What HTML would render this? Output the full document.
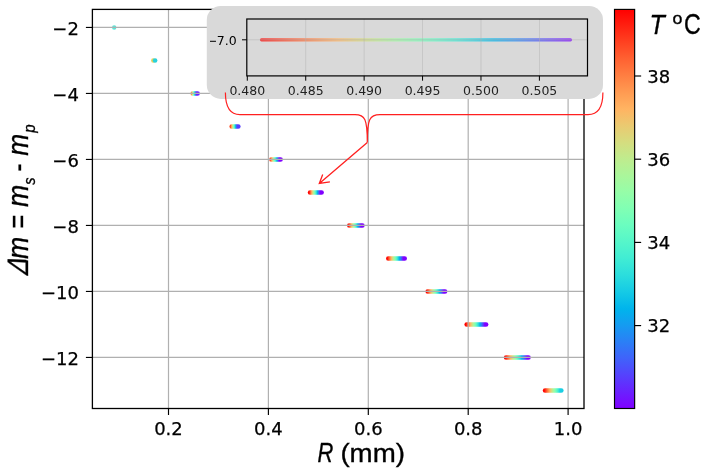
<!DOCTYPE html><html><head><meta charset="utf-8"><title>plot</title><style>html,body{margin:0;padding:0;background:#fff}svg{display:block}text{font-family:"DejaVu Sans","Liberation Sans",sans-serif}text.b{stroke:#000;stroke-width:0.25px}text.l{font-family:"Liberation Sans","DejaVu Sans",sans-serif;stroke:#000;stroke-width:0.35px}</style></head><body>
<svg width="706" height="473" viewBox="0 0 706 473">
<defs>
<linearGradient id="cb" x1="0" y1="0" x2="0" y2="1"><stop offset="0.0000" stop-color="#ff0000"/><stop offset="0.0417" stop-color="#ff2111"/><stop offset="0.0833" stop-color="#ff4221"/><stop offset="0.1250" stop-color="#ff6232"/><stop offset="0.1667" stop-color="#ff7f42"/><stop offset="0.2083" stop-color="#ff9b52"/><stop offset="0.2500" stop-color="#ffb462"/><stop offset="0.2917" stop-color="#eaca71"/><stop offset="0.3333" stop-color="#d5dd7f"/><stop offset="0.3750" stop-color="#bfec8e"/><stop offset="0.4167" stop-color="#aaf69b"/><stop offset="0.4583" stop-color="#95fda8"/><stop offset="0.5000" stop-color="#80ffb4"/><stop offset="0.5417" stop-color="#6afdc0"/><stop offset="0.5833" stop-color="#55f6ca"/><stop offset="0.6250" stop-color="#40ecd4"/><stop offset="0.6667" stop-color="#2bdddd"/><stop offset="0.7083" stop-color="#15cae5"/><stop offset="0.7500" stop-color="#00b4ec"/><stop offset="0.7917" stop-color="#159bf1"/><stop offset="0.8333" stop-color="#2b7ff6"/><stop offset="0.8750" stop-color="#4062fa"/><stop offset="0.9167" stop-color="#5542fd"/><stop offset="0.9583" stop-color="#6a21fe"/><stop offset="1.0000" stop-color="#8000ff"/></linearGradient>
<linearGradient id="gi" gradientUnits="userSpaceOnUse" x1="260" y1="0" x2="572" y2="0"><stop offset="0.0000" stop-color="#ff0000"/><stop offset="0.0625" stop-color="#ff3219"/><stop offset="0.1250" stop-color="#ff6232"/><stop offset="0.1875" stop-color="#ff8e4a"/><stop offset="0.2500" stop-color="#ffb462"/><stop offset="0.3125" stop-color="#dfd478"/><stop offset="0.3750" stop-color="#bfec8e"/><stop offset="0.4375" stop-color="#9ffaa2"/><stop offset="0.5000" stop-color="#80ffb4"/><stop offset="0.5625" stop-color="#60fac5"/><stop offset="0.6250" stop-color="#40ecd4"/><stop offset="0.6875" stop-color="#20d4e1"/><stop offset="0.7500" stop-color="#00b4ec"/><stop offset="0.8125" stop-color="#208ef4"/><stop offset="0.8750" stop-color="#4062fa"/><stop offset="0.9375" stop-color="#6032fe"/><stop offset="1.0000" stop-color="#8000ff"/></linearGradient>
</defs>
<rect width="706" height="473" fill="#fff"/>
<circle cx="114.2" cy="27.45" r="2.2" fill="#40e0d0" opacity="0.85"/>
<circle cx="153.3" cy="60.45" r="2.2" fill="#e0c840" opacity="0.85"/>
<circle cx="155.1" cy="60.45" r="2.3" fill="#28d2dc"/>
<defs><linearGradient id="c0" gradientUnits="userSpaceOnUse" x1="191.6" y1="0" x2="196.2" y2="0"><stop offset="0.0000" stop-color="#ff964f"/><stop offset="0.0833" stop-color="#f8bc66"/><stop offset="0.1667" stop-color="#d8da7d"/><stop offset="0.2500" stop-color="#b8f093"/><stop offset="0.3333" stop-color="#97fca7"/><stop offset="0.4167" stop-color="#77ffb9"/><stop offset="0.5000" stop-color="#57f7c9"/><stop offset="0.5833" stop-color="#36e6d8"/><stop offset="0.6667" stop-color="#16cbe4"/><stop offset="0.7500" stop-color="#0aa9ef"/><stop offset="0.8333" stop-color="#2b7ff6"/><stop offset="0.9167" stop-color="#4b51fc"/><stop offset="1.0000" stop-color="#6b20fe"/></linearGradient></defs>
<rect x="190.40" y="91.15" width="9.50" height="4.6" rx="2.3" fill="url(#c0)"/>
<defs><linearGradient id="c1" gradientUnits="userSpaceOnUse" x1="230.6" y1="0" x2="236.9" y2="0"><stop offset="0.0000" stop-color="#ff4f28"/><stop offset="0.0833" stop-color="#ff8143"/><stop offset="0.1667" stop-color="#ffad5d"/><stop offset="0.2500" stop-color="#e3d176"/><stop offset="0.3333" stop-color="#c0eb8d"/><stop offset="0.4167" stop-color="#9dfba3"/><stop offset="0.5000" stop-color="#7affb7"/><stop offset="0.5833" stop-color="#58f7c9"/><stop offset="0.6667" stop-color="#35e4d9"/><stop offset="0.7500" stop-color="#12c7e6"/><stop offset="0.8333" stop-color="#11a0f0"/><stop offset="0.9167" stop-color="#3473f8"/><stop offset="1.0000" stop-color="#573ffd"/></linearGradient></defs>
<rect x="229.40" y="124.15" width="11.20" height="4.6" rx="2.3" fill="url(#c1)"/>
<defs><linearGradient id="c2" gradientUnits="userSpaceOnUse" x1="270.3" y1="0" x2="279.2" y2="0"><stop offset="0.0000" stop-color="#ff3f20"/><stop offset="0.0833" stop-color="#ff793e"/><stop offset="0.1667" stop-color="#ffab5b"/><stop offset="0.2500" stop-color="#e0d377"/><stop offset="0.3333" stop-color="#b9ef92"/><stop offset="0.4167" stop-color="#92fdaa"/><stop offset="0.5000" stop-color="#6bfdbf"/><stop offset="0.5833" stop-color="#44eed2"/><stop offset="0.6667" stop-color="#1dd1e2"/><stop offset="0.7500" stop-color="#0aa9ef"/><stop offset="0.8333" stop-color="#3176f8"/><stop offset="0.9167" stop-color="#583dfd"/><stop offset="1.0000" stop-color="#8000ff"/></linearGradient></defs>
<rect x="269.10" y="157.15" width="13.80" height="4.6" rx="2.3" fill="url(#c2)"/>
<defs><linearGradient id="c3" gradientUnits="userSpaceOnUse" x1="309.0" y1="0" x2="320.2" y2="0"><stop offset="0.0000" stop-color="#ff0000"/><stop offset="0.0833" stop-color="#ff4221"/><stop offset="0.1667" stop-color="#ff7f42"/><stop offset="0.2500" stop-color="#ffb462"/><stop offset="0.3333" stop-color="#d5dd7f"/><stop offset="0.4167" stop-color="#aaf69b"/><stop offset="0.5000" stop-color="#80ffb4"/><stop offset="0.5833" stop-color="#55f6ca"/><stop offset="0.6667" stop-color="#2bdddd"/><stop offset="0.7500" stop-color="#00b4ec"/><stop offset="0.8333" stop-color="#2b7ff6"/><stop offset="0.9167" stop-color="#5542fd"/><stop offset="1.0000" stop-color="#8000ff"/></linearGradient></defs>
<rect x="307.80" y="190.15" width="16.10" height="4.6" rx="2.3" fill="url(#c3)"/>
<defs><linearGradient id="c4" gradientUnits="userSpaceOnUse" x1="348.2" y1="0" x2="361.0" y2="0"><stop offset="0.0000" stop-color="#ff0000"/><stop offset="0.0833" stop-color="#ff4221"/><stop offset="0.1667" stop-color="#ff7f42"/><stop offset="0.2500" stop-color="#ffb462"/><stop offset="0.3333" stop-color="#d5dd7f"/><stop offset="0.4167" stop-color="#aaf69b"/><stop offset="0.5000" stop-color="#80ffb4"/><stop offset="0.5833" stop-color="#55f6ca"/><stop offset="0.6667" stop-color="#2bdddd"/><stop offset="0.7500" stop-color="#00b4ec"/><stop offset="0.8333" stop-color="#2b7ff6"/><stop offset="0.9167" stop-color="#5542fd"/><stop offset="1.0000" stop-color="#8000ff"/></linearGradient></defs>
<rect x="347.00" y="223.15" width="17.70" height="4.6" rx="2.3" fill="url(#c4)"/>
<defs><linearGradient id="c5" gradientUnits="userSpaceOnUse" x1="387.2" y1="0" x2="403.3" y2="0"><stop offset="0.0000" stop-color="#ff0000"/><stop offset="0.0833" stop-color="#ff4221"/><stop offset="0.1667" stop-color="#ff7f42"/><stop offset="0.2500" stop-color="#ffb462"/><stop offset="0.3333" stop-color="#d5dd7f"/><stop offset="0.4167" stop-color="#aaf69b"/><stop offset="0.5000" stop-color="#80ffb4"/><stop offset="0.5833" stop-color="#55f6ca"/><stop offset="0.6667" stop-color="#2bdddd"/><stop offset="0.7500" stop-color="#00b4ec"/><stop offset="0.8333" stop-color="#2b7ff6"/><stop offset="0.9167" stop-color="#5542fd"/><stop offset="1.0000" stop-color="#8000ff"/></linearGradient></defs>
<rect x="386.00" y="256.15" width="21.00" height="4.6" rx="2.3" fill="url(#c5)"/>
<defs><linearGradient id="c6" gradientUnits="userSpaceOnUse" x1="426.6" y1="0" x2="443.7" y2="0"><stop offset="0.0000" stop-color="#ff0000"/><stop offset="0.0833" stop-color="#ff4221"/><stop offset="0.1667" stop-color="#ff7f42"/><stop offset="0.2500" stop-color="#ffb462"/><stop offset="0.3333" stop-color="#d5dd7f"/><stop offset="0.4167" stop-color="#aaf69b"/><stop offset="0.5000" stop-color="#80ffb4"/><stop offset="0.5833" stop-color="#55f6ca"/><stop offset="0.6667" stop-color="#2bdddd"/><stop offset="0.7500" stop-color="#00b4ec"/><stop offset="0.8333" stop-color="#2b7ff6"/><stop offset="0.9167" stop-color="#5542fd"/><stop offset="1.0000" stop-color="#8000ff"/></linearGradient></defs>
<rect x="425.40" y="289.15" width="22.00" height="4.6" rx="2.3" fill="url(#c6)"/>
<defs><linearGradient id="c7" gradientUnits="userSpaceOnUse" x1="465.6" y1="0" x2="484.7" y2="0"><stop offset="0.0000" stop-color="#ff0000"/><stop offset="0.0833" stop-color="#ff4221"/><stop offset="0.1667" stop-color="#ff7f42"/><stop offset="0.2500" stop-color="#ffb462"/><stop offset="0.3333" stop-color="#d5dd7f"/><stop offset="0.4167" stop-color="#aaf69b"/><stop offset="0.5000" stop-color="#80ffb4"/><stop offset="0.5833" stop-color="#55f6ca"/><stop offset="0.6667" stop-color="#2bdddd"/><stop offset="0.7500" stop-color="#00b4ec"/><stop offset="0.8333" stop-color="#2b7ff6"/><stop offset="0.9167" stop-color="#5542fd"/><stop offset="1.0000" stop-color="#8000ff"/></linearGradient></defs>
<rect x="464.40" y="322.15" width="24.00" height="4.6" rx="2.3" fill="url(#c7)"/>
<defs><linearGradient id="c8" gradientUnits="userSpaceOnUse" x1="505.0" y1="0" x2="527.1" y2="0"><stop offset="0.0000" stop-color="#ff0000"/><stop offset="0.0833" stop-color="#ff4221"/><stop offset="0.1667" stop-color="#ff7f42"/><stop offset="0.2500" stop-color="#ffb462"/><stop offset="0.3333" stop-color="#d5dd7f"/><stop offset="0.4167" stop-color="#aaf69b"/><stop offset="0.5000" stop-color="#80ffb4"/><stop offset="0.5833" stop-color="#55f6ca"/><stop offset="0.6667" stop-color="#2bdddd"/><stop offset="0.7500" stop-color="#00b4ec"/><stop offset="0.8333" stop-color="#2b7ff6"/><stop offset="0.9167" stop-color="#5542fd"/><stop offset="1.0000" stop-color="#8000ff"/></linearGradient></defs>
<rect x="503.80" y="355.15" width="27.00" height="4.6" rx="2.3" fill="url(#c8)"/>
<defs><linearGradient id="c9" gradientUnits="userSpaceOnUse" x1="544.0" y1="0" x2="559.9" y2="0"><stop offset="0.0000" stop-color="#ff0000"/><stop offset="0.0833" stop-color="#ff2e17"/><stop offset="0.1667" stop-color="#ff5b2e"/><stop offset="0.2500" stop-color="#ff8545"/><stop offset="0.3333" stop-color="#ffab5b"/><stop offset="0.4167" stop-color="#eaca71"/><stop offset="0.5000" stop-color="#cce385"/><stop offset="0.5833" stop-color="#aef499"/><stop offset="0.6667" stop-color="#91feab"/><stop offset="0.7500" stop-color="#73febb"/><stop offset="0.8333" stop-color="#55f6ca"/><stop offset="0.9167" stop-color="#37e6d8"/><stop offset="1.0000" stop-color="#1acee3"/></linearGradient></defs>
<rect x="542.80" y="388.15" width="20.80" height="4.6" rx="2.3" fill="url(#c9)"/>
<line x1="168.50" y1="9.4" x2="168.50" y2="408.5" stroke="#b0b0b0" stroke-width="1.2"/>
<line x1="268.40" y1="9.4" x2="268.40" y2="408.5" stroke="#b0b0b0" stroke-width="1.2"/>
<line x1="368.30" y1="9.4" x2="368.30" y2="408.5" stroke="#b0b0b0" stroke-width="1.2"/>
<line x1="468.20" y1="9.4" x2="468.20" y2="408.5" stroke="#b0b0b0" stroke-width="1.2"/>
<line x1="568.10" y1="9.4" x2="568.10" y2="408.5" stroke="#b0b0b0" stroke-width="1.2"/>
<line x1="92.4" y1="27.45" x2="584.0" y2="27.45" stroke="#b0b0b0" stroke-width="1.2"/>
<line x1="92.4" y1="93.45" x2="584.0" y2="93.45" stroke="#b0b0b0" stroke-width="1.2"/>
<line x1="92.4" y1="159.45" x2="584.0" y2="159.45" stroke="#b0b0b0" stroke-width="1.2"/>
<line x1="92.4" y1="225.45" x2="584.0" y2="225.45" stroke="#b0b0b0" stroke-width="1.2"/>
<line x1="92.4" y1="291.45" x2="584.0" y2="291.45" stroke="#b0b0b0" stroke-width="1.2"/>
<line x1="92.4" y1="357.45" x2="584.0" y2="357.45" stroke="#b0b0b0" stroke-width="1.2"/>
<line x1="168.50" y1="408.5" x2="168.50" y2="415.0" stroke="#000" stroke-width="1.15"/>
<text x="168.50" y="435.4" font-size="18" class="b" text-anchor="middle">0.2</text>
<line x1="268.40" y1="408.5" x2="268.40" y2="415.0" stroke="#000" stroke-width="1.15"/>
<text x="268.40" y="435.4" font-size="18" class="b" text-anchor="middle">0.4</text>
<line x1="368.30" y1="408.5" x2="368.30" y2="415.0" stroke="#000" stroke-width="1.15"/>
<text x="368.30" y="435.4" font-size="18" class="b" text-anchor="middle">0.6</text>
<line x1="468.20" y1="408.5" x2="468.20" y2="415.0" stroke="#000" stroke-width="1.15"/>
<text x="468.20" y="435.4" font-size="18" class="b" text-anchor="middle">0.8</text>
<line x1="568.10" y1="408.5" x2="568.10" y2="415.0" stroke="#000" stroke-width="1.15"/>
<text x="568.10" y="435.4" font-size="18" class="b" text-anchor="middle">1.0</text>
<line x1="85.9" y1="27.45" x2="92.4" y2="27.45" stroke="#000" stroke-width="1.15"/>
<text x="78.9" y="34.65" font-size="18" class="b" text-anchor="end">−2</text>
<line x1="85.9" y1="93.45" x2="92.4" y2="93.45" stroke="#000" stroke-width="1.15"/>
<text x="78.9" y="100.65" font-size="18" class="b" text-anchor="end">−4</text>
<line x1="85.9" y1="159.45" x2="92.4" y2="159.45" stroke="#000" stroke-width="1.15"/>
<text x="78.9" y="166.65" font-size="18" class="b" text-anchor="end">−6</text>
<line x1="85.9" y1="225.45" x2="92.4" y2="225.45" stroke="#000" stroke-width="1.15"/>
<text x="78.9" y="232.65" font-size="18" class="b" text-anchor="end">−8</text>
<line x1="85.9" y1="291.45" x2="92.4" y2="291.45" stroke="#000" stroke-width="1.15"/>
<text x="78.9" y="298.65" font-size="18" class="b" text-anchor="end">−10</text>
<line x1="85.9" y1="357.45" x2="92.4" y2="357.45" stroke="#000" stroke-width="1.15"/>
<text x="78.9" y="364.65" font-size="18" class="b" text-anchor="end">−12</text>
<rect x="92.4" y="9.4" width="491.6" height="399.1" fill="none" stroke="#000" stroke-width="1.3"/>
<rect x="206.8" y="6" width="396.2" height="92.9" rx="14" ry="14" fill="#d9d9d9"/>
<line x1="261.5" y1="39.8" x2="570.5" y2="39.8" stroke="url(#gi)" stroke-width="3.2" stroke-linecap="round" opacity="0.72"/>
<line x1="247.30" y1="75.9" x2="247.30" y2="80.7" stroke="#000" stroke-width="1"/>
<text x="247.30" y="94.9" font-size="12.5" fill="#222" text-anchor="middle">0.480</text>
<line x1="305.72" y1="19.0" x2="305.72" y2="75.9" stroke="#b0b0b0" stroke-width="0.6" opacity="0.8"/>
<line x1="305.72" y1="75.9" x2="305.72" y2="80.7" stroke="#000" stroke-width="1"/>
<text x="305.72" y="94.9" font-size="12.5" fill="#222" text-anchor="middle">0.485</text>
<line x1="364.14" y1="19.0" x2="364.14" y2="75.9" stroke="#b0b0b0" stroke-width="0.6" opacity="0.8"/>
<line x1="364.14" y1="75.9" x2="364.14" y2="80.7" stroke="#000" stroke-width="1"/>
<text x="364.14" y="94.9" font-size="12.5" fill="#222" text-anchor="middle">0.490</text>
<line x1="422.56" y1="19.0" x2="422.56" y2="75.9" stroke="#b0b0b0" stroke-width="0.6" opacity="0.8"/>
<line x1="422.56" y1="75.9" x2="422.56" y2="80.7" stroke="#000" stroke-width="1"/>
<text x="422.56" y="94.9" font-size="12.5" fill="#222" text-anchor="middle">0.495</text>
<line x1="480.98" y1="19.0" x2="480.98" y2="75.9" stroke="#b0b0b0" stroke-width="0.6" opacity="0.8"/>
<line x1="480.98" y1="75.9" x2="480.98" y2="80.7" stroke="#000" stroke-width="1"/>
<text x="480.98" y="94.9" font-size="12.5" fill="#222" text-anchor="middle">0.500</text>
<line x1="539.40" y1="19.0" x2="539.40" y2="75.9" stroke="#b0b0b0" stroke-width="0.6" opacity="0.8"/>
<line x1="539.40" y1="75.9" x2="539.40" y2="80.7" stroke="#000" stroke-width="1"/>
<text x="539.40" y="94.9" font-size="12.5" fill="#222" text-anchor="middle">0.505</text>
<line x1="246.8" y1="39.8" x2="587.5" y2="39.8" stroke="#b0b0b0" stroke-width="0.6" opacity="0.8"/>
<line x1="242.0" y1="39.8" x2="246.8" y2="39.8" stroke="#000" stroke-width="1"/>
<text x="236.6" y="44.599999999999994" font-size="12.5" text-anchor="end">7.0</text>
<text transform="translate(208.98,44.60) scale(0.7668,1)" class="d" font-size="12.5">−</text>
<rect x="246.8" y="19.0" width="340.7" height="56.900000000000006" fill="none" stroke="#000" stroke-width="1.2"/>
<path d="M225.4,92.6 C225.4,110 232,114.7 240,114.7 L355,114.7 C365,114.7 367.3,119 367.3,142.4 C367.3,119 369.6,114.7 380,114.7 L588,114.7 C596,114.7 602.9,110 602.9,92.6" fill="none" stroke="#ff2020" stroke-width="1.2"/>
<path d="M367.3,142.4 L319.3,183.5 M329.9,181.9 L319.3,183.5 L322.7,174.6" fill="none" stroke="#ff2020" stroke-width="1.3" stroke-linejoin="miter"/>
<rect x="614.5" y="9.4" width="20.149999999999977" height="399.1" fill="url(#cb)" stroke="#000" stroke-width="1.15"/>
<line x1="634.65" y1="76.0" x2="641.15" y2="76.0" stroke="#000" stroke-width="1.15"/>
<text x="647.3" y="82.6" font-size="18" class="b">38</text>
<line x1="634.65" y1="159.2" x2="641.15" y2="159.2" stroke="#000" stroke-width="1.15"/>
<text x="647.3" y="165.79999999999998" font-size="18" class="b">36</text>
<line x1="634.65" y1="242.4" x2="641.15" y2="242.4" stroke="#000" stroke-width="1.15"/>
<text x="647.3" y="249.0" font-size="18" class="b">34</text>
<line x1="634.65" y1="325.6" x2="641.15" y2="325.6" stroke="#000" stroke-width="1.15"/>
<text x="647.3" y="332.20000000000005" font-size="18" class="b">32</text>
<text transform="translate(649.55,33.80) scale(0.8771,1)" class="l" font-size="28.5" font-style="italic">T</text>
<text transform="translate(672.45,23.50) scale(1.1119,1)" class="l" font-size="16">o</text>
<text transform="translate(684.02,33.95) scale(0.8060,1)" class="l" font-size="28.8">C</text>
<text transform="translate(317.62,462.40) scale(0.8129,1)" class="l" font-size="27" font-style="italic">R</text>
<text transform="translate(340.38,462.40) scale(1.0660,1)" class="l" font-size="26">(mm)</text>
<g transform="translate(28.4,0) rotate(-90)">
<text transform="translate(-276.44,0) skewX(-20) scale(0.8420,1)" class="l" font-size="29.5">Δ</text>
<text transform="translate(-258.94,0.00) scale(0.9025,1)" class="l" font-size="29.5" font-style="italic">m</text>
<text transform="translate(-228.55,0.00) scale(0.7954,1)" class="l" font-size="29.5">=</text>
<text transform="translate(-206.94,0.00) scale(0.9069,1)" class="l" font-size="29.5" font-style="italic">m</text>
<text transform="translate(-184.84,6.90) scale(0.8766,1)" class="l" font-size="16.5" font-style="italic">s</text>
<text transform="translate(-171.46,0.00) scale(0.8053,1)" class="l" font-size="29.5">-</text>
<text transform="translate(-155.64,0.00) scale(0.8937,1)" class="l" font-size="29.5" font-style="italic">m</text>
<text transform="translate(-132.72,6.90) scale(0.9166,1)" class="l" font-size="16.5" font-style="italic">p</text>
</g>
</svg></body></html>
